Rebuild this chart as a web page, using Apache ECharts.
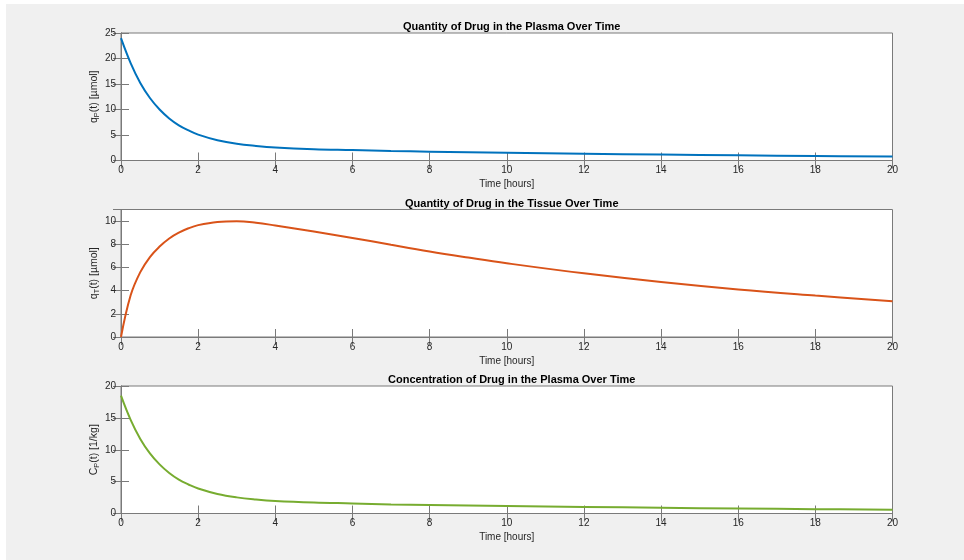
<!DOCTYPE html>
<html>
<head>
<meta charset="utf-8">
<script src="https://cdn.jsdelivr.net/npm/echarts@6/dist/echarts.min.js"></script>
<style>
  html, body { margin: 0; padding: 0; background: #ffffff; }
  #chart { width: 964px; height: 560px; }
</style>
</head>
<body>
<div id="chart"></div>
<script>
// Sample times [hours]
const timeHours = [0, 0.25, 0.5, 0.75, 1, 1.25, 1.5, 1.75, 2, 2.5, 3, 3.5, 4, 5, 6, 7, 8, 9, 10, 12, 14, 16, 18, 20];
// Quantity of drug in the plasma [µmol]
const plasmaQty = [24.0, 19.1, 15.2, 12.25, 10.0, 8.25, 6.9, 5.9, 5.08, 3.98, 3.28, 2.86, 2.56, 2.23, 2.05, 1.86, 1.74, 1.63, 1.52, 1.33, 1.16, 1.01, 0.88, 0.77];
// Quantity of drug in the tissue [µmol]
const tissueQty = [0, 3.6, 5.6, 6.9, 7.8, 8.5, 9.0, 9.38, 9.65, 9.93, 9.99, 9.86, 9.62, 9.1, 8.55, 7.95, 7.37, 6.85, 6.36, 5.49, 4.74, 4.10, 3.57, 3.08];
// Concentration of drug in the plasma [1/kg]
const plasmaConc = [18.5, 14.7, 11.7, 9.43, 7.7, 6.35, 5.31, 4.55, 3.91, 3.06, 2.53, 2.2, 1.97, 1.72, 1.58, 1.43, 1.34, 1.25, 1.17, 1.03, 0.9, 0.78, 0.68, 0.6];

const titles = [
  'Quantity of Drug in the Plasma Over Time',
  'Quantity of Drug in the Tissue Over Time',
  'Concentration of Drug in the Plasma Over Time'
];
const yNames = [
  '{n|q}{s|P}{n|(t) [µmol]}',
  '{n|q}{s|T}{n|(t) [µmol]}',
  '{n|C}{s|P}{n|(t) [1/kg]}'
];
const yMax = [25, 11, 20];
const yStep = [5, 2, 5];
const lineColors = ['#0072BD', '#D95319', '#77AC30'];
const seriesValues = [plasmaQty, tissueQty, plasmaConc];

const FONT = '"Liberation Sans", Arial, Helvetica, sans-serif';
const AXIS_COLOR = '#7a7a7a';
const TEXT_COLOR = '#262626';
const TICK_LEN = 8;

const gridTops = [33, 209.5, 386];
const gridH = 127.5;
const gridLeft = 121;
const gridW = 771.5;

const grids = [], xAxes = [], yAxes = [], series = [], titleList = [];

for (let i = 0; i < 3; i++) {
  grids.push({
    left: gridLeft, top: gridTops[i], width: gridW, height: gridH,
    show: true, backgroundColor: '#ffffff', borderColor: AXIS_COLOR, borderWidth: 1
  });
  // bottom x axis with labels
  xAxes.push({
    type: 'value', gridIndex: i, min: 0, max: 20, interval: 2, position: 'bottom',
    name: 'Time [hours]', nameLocation: 'middle', nameGap: 19,
    nameTextStyle: { fontFamily: FONT, fontSize: 10, color: TEXT_COLOR },
    axisLine: { show: true, lineStyle: { color: AXIS_COLOR, width: 1 } },
    axisTick: { show: true, inside: true, length: TICK_LEN, lineStyle: { color: AXIS_COLOR } },
    axisLabel: { fontFamily: FONT, fontSize: 10, color: TEXT_COLOR, margin: 5 },
    splitLine: { show: false }
  });
  // mirrored top x axis, ticks only
  xAxes.push({
    type: 'value', gridIndex: i, min: 0, max: 20, interval: 2, position: 'top',
    axisLine: { show: true, lineStyle: { color: AXIS_COLOR, width: 1 } },
    axisTick: { show: true, inside: true, length: TICK_LEN, lineStyle: { color: AXIS_COLOR } },
    axisLabel: { show: false }, splitLine: { show: false }
  });
  // left y axis with labels; the tissue panel's top (11) is not a labelled tick
  const onStep = yMax[i] % yStep[i] === 0;
  yAxes.push({
    type: 'value', gridIndex: i, min: 0, max: yMax[i], interval: yStep[i], position: 'left',
    name: yNames[i], nameLocation: 'middle', nameGap: 20, nameRotate: 90,
    nameMoveOverlap: false,
    nameTextStyle: {
      fontFamily: FONT, color: TEXT_COLOR,
      rich: {
        n: { fontFamily: FONT, fontSize: 10.5, color: TEXT_COLOR, lineHeight: 14, verticalAlign: 'middle' },
        s: { fontFamily: FONT, fontSize: 7.5, color: TEXT_COLOR, lineHeight: 14, verticalAlign: 'bottom', padding: [6, 0, 0, 0] }
      }
    },
    axisLine: { show: true, lineStyle: { color: AXIS_COLOR, width: 1 } },
    axisTick: { show: true, inside: true, length: TICK_LEN, lineStyle: { color: AXIS_COLOR } },
    axisLabel: { fontFamily: FONT, fontSize: 10, color: TEXT_COLOR, margin: 5, showMaxLabel: onStep },
    splitLine: { show: false }
  });
  // mirrored right y axis, ticks only
  yAxes.push({
    type: 'value', gridIndex: i, min: 0, max: yMax[i], interval: yStep[i], position: 'right',
    axisLine: { show: true, lineStyle: { color: AXIS_COLOR, width: 1 } },
    axisTick: { show: true, inside: true, length: TICK_LEN, lineStyle: { color: AXIS_COLOR } },
    axisLabel: { show: false }, splitLine: { show: false }
  });

  series.push({
    type: 'line', xAxisIndex: 2 * i, yAxisIndex: 2 * i,
    data: timeHours.map((t, k) => [t, seriesValues[i][k]]),
    showSymbol: false, smooth: 0.4,
    lineStyle: { color: lineColors[i], width: 2 },
    itemStyle: { color: lineColors[i] },
    silent: true, animation: false, z: 3
  });

  titleList.push({
    text: titles[i], left: gridLeft + gridW / 2, top: gridTops[i] - 16.5, textAlign: 'center',
    textStyle: { fontFamily: FONT, fontSize: 11, fontWeight: 'bold', color: '#000000' }
  });
}

const chart = echarts.init(document.getElementById('chart'), null, { renderer: 'canvas' });
chart.setOption({
  backgroundColor: '#ffffff',
  animation: false,
  graphic: [{
    type: 'rect', z: -10, silent: true,
    shape: { x: 6, y: 4, width: 958, height: 556 },
    style: { fill: '#f0f0f0' }
  }],
  title: titleList,
  grid: grids,
  xAxis: xAxes,
  yAxis: yAxes,
  series: series
});
</script>
</body>
</html>
